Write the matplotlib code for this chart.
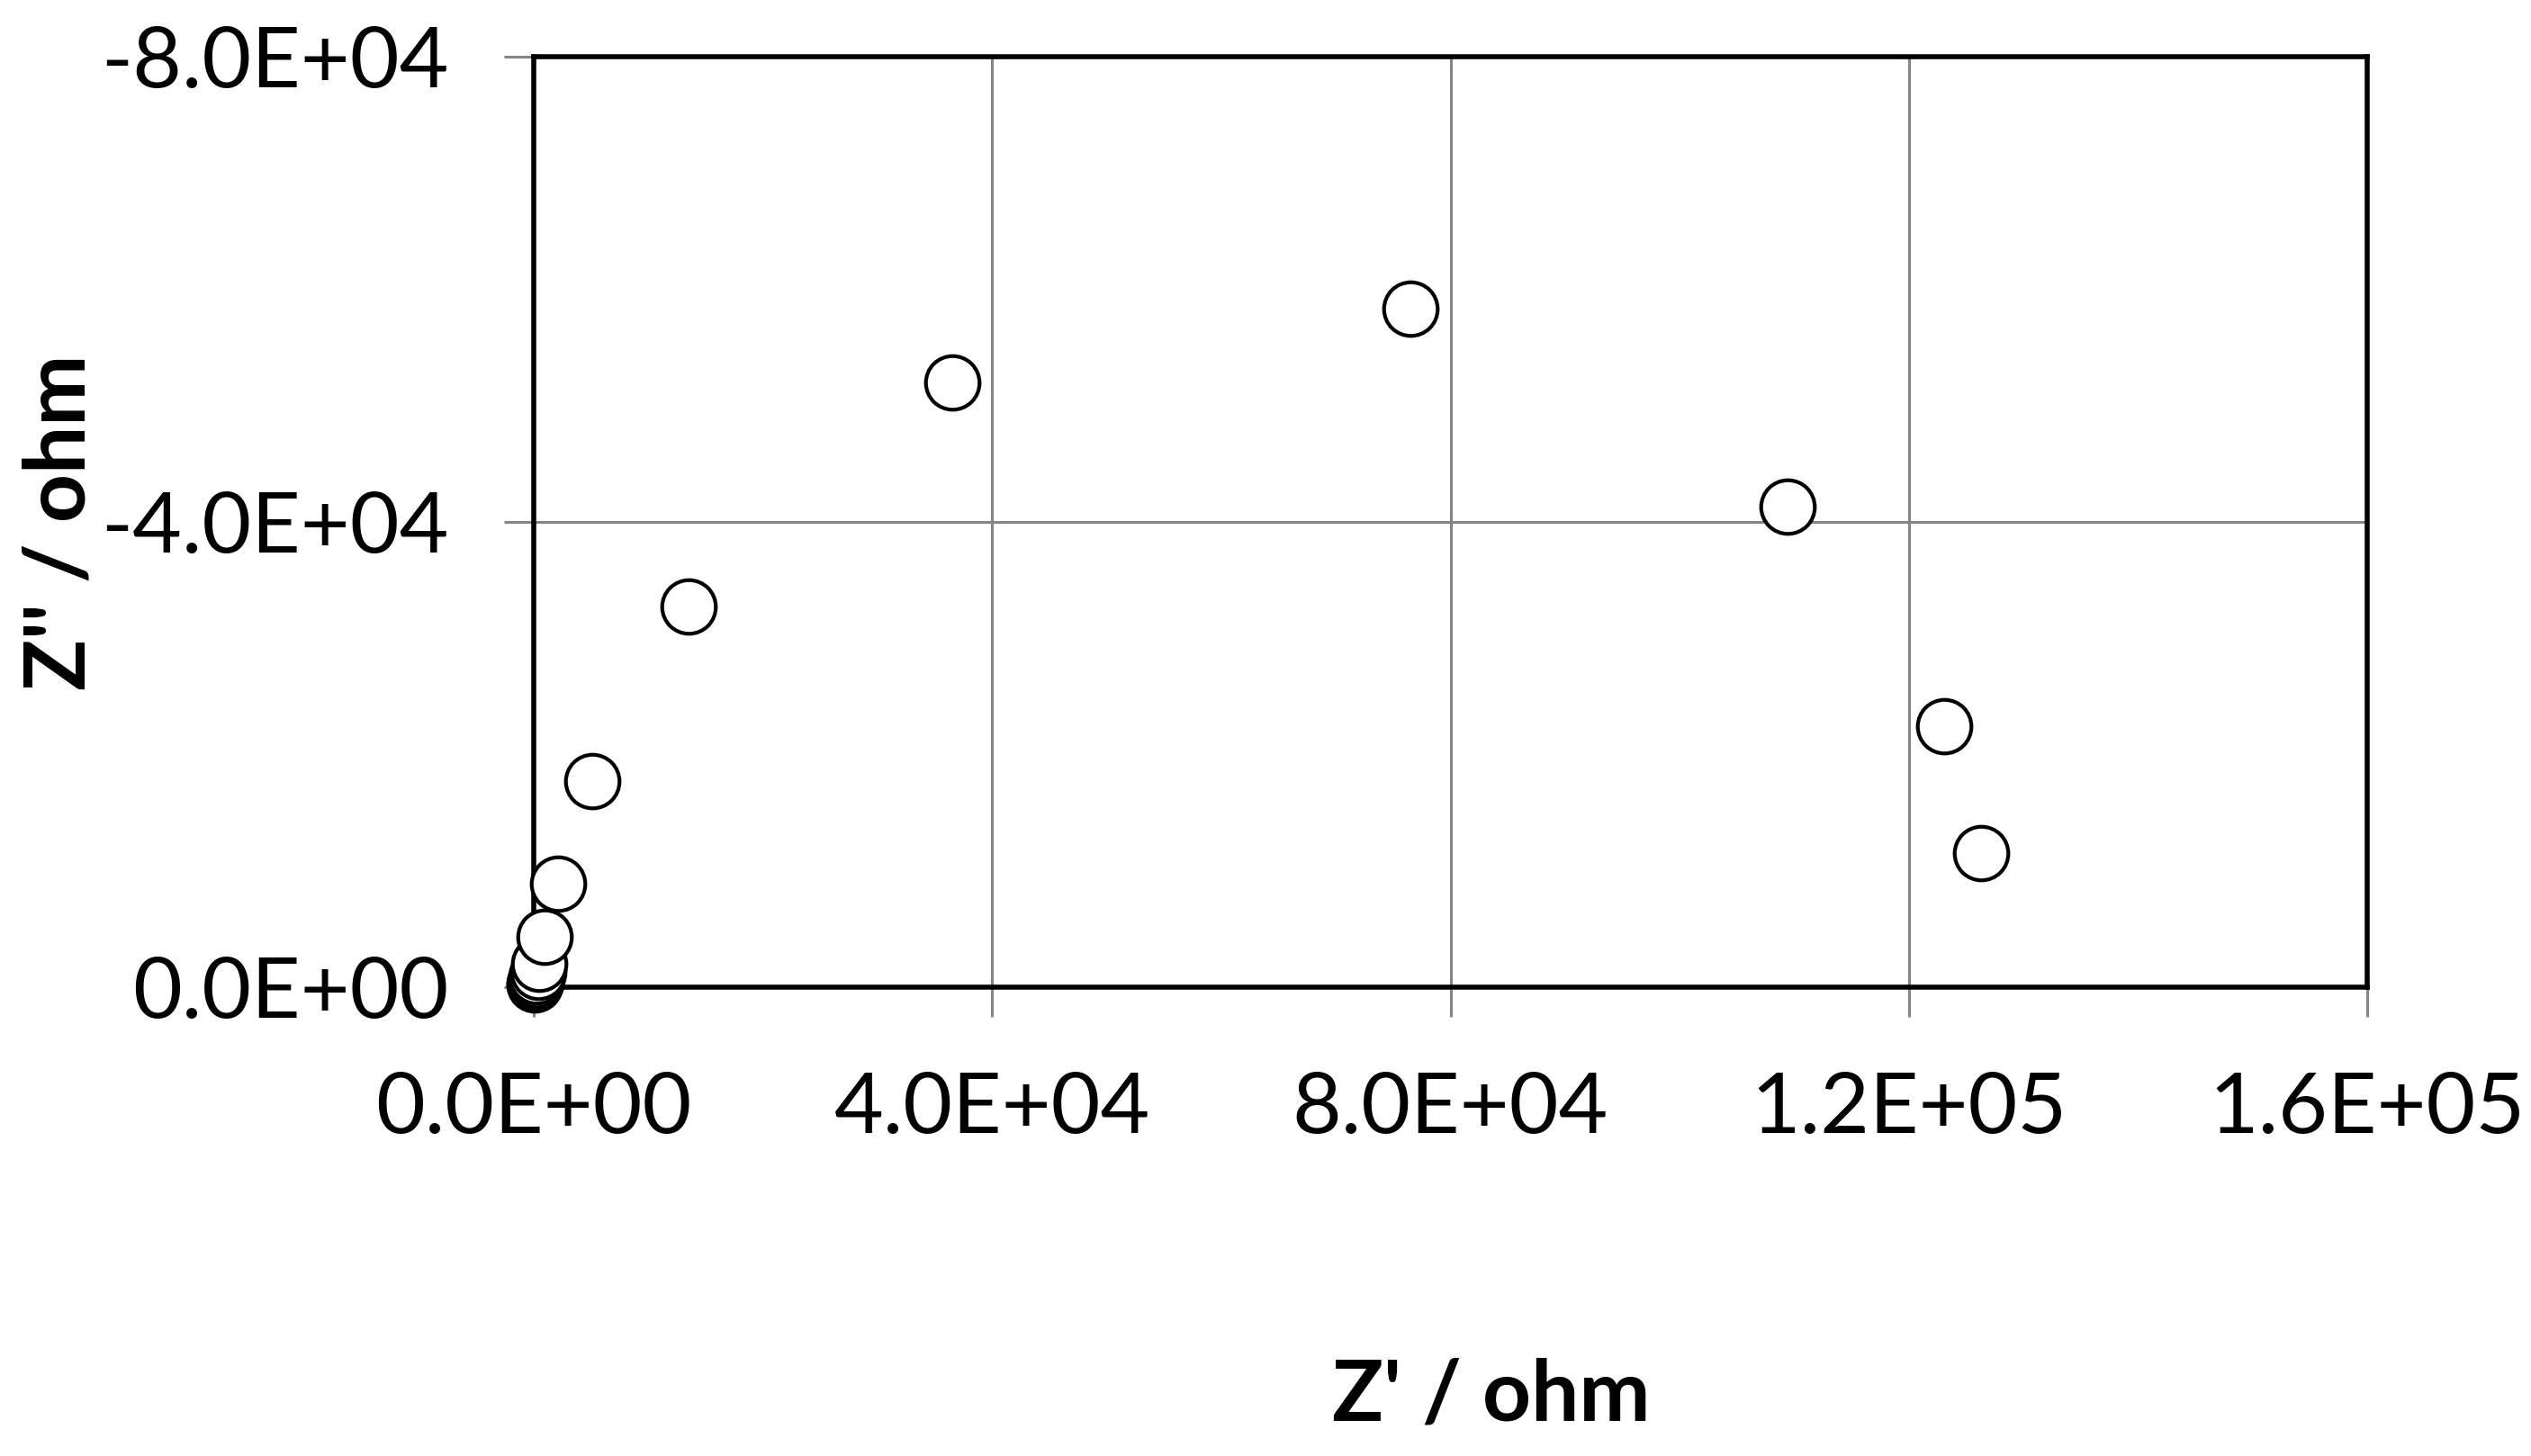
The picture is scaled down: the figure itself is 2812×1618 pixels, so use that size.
import matplotlib
matplotlib.use("Agg")
import matplotlib.pyplot as plt

# Nyquist data, high frequency first (later points sit on top)
z_real = [80, 100, 150, 200, 250, 350, 500, 900, 2150, 5100, 13500,
          36500, 76500, 109400, 123100, 126300]
z_imag = [-200, -300, -450, -650, -900, -1300, -2000, -4300, -8900, -17700,
          -32700, -52000, -58300, -41300, -22400, -11500]

x_ticks = [0, 40000, 80000, 120000, 160000]
x_labels = ["0.0E+00", "4.0E+04", "8.0E+04", "1.2E+05", "1.6E+05"]
y_ticks = [0, -40000, -80000]
y_labels = ["0.0E+00", "-4.0E+04", "-8.0E+04"]

GRAY = "#858585"
plt.rcParams["font.family"] = ["Lato", "DejaVu Sans"]

fig = plt.figure(figsize=(14.06, 8.09), dpi=200)
ax = fig.add_axes([0.2109, 0.322, 0.7244, 0.6391])

ax.scatter(z_real, z_imag, s=460, facecolor="white", edgecolor="black",
           linewidths=1.5, zorder=5, clip_on=False)

ax.set_xlim(0, 160000)
ax.set_ylim(0, -80000)
ax.set_xticks(x_ticks, x_labels)
ax.set_yticks(y_ticks, y_labels)
ax.grid(True, color=GRAY, lw=1.1)
ax.set_axisbelow(True)
ax.tick_params(direction="out", length=12, width=1.1, color=GRAY,
               labelsize=34, pad=22)
for sp in ax.spines.values():
    sp.set_color("black")
    sp.set_linewidth(2.0)

fig.text(0.589, 0.041, "Z' / ohm", ha="center", va="center",
         fontsize=34, fontweight="bold")
fig.text(0.024, 0.6415, "Z'' / ohm", ha="center", va="center",
         rotation=90, fontsize=34, fontweight="bold")

fig.savefig("out.png", dpi=200, facecolor="white")
